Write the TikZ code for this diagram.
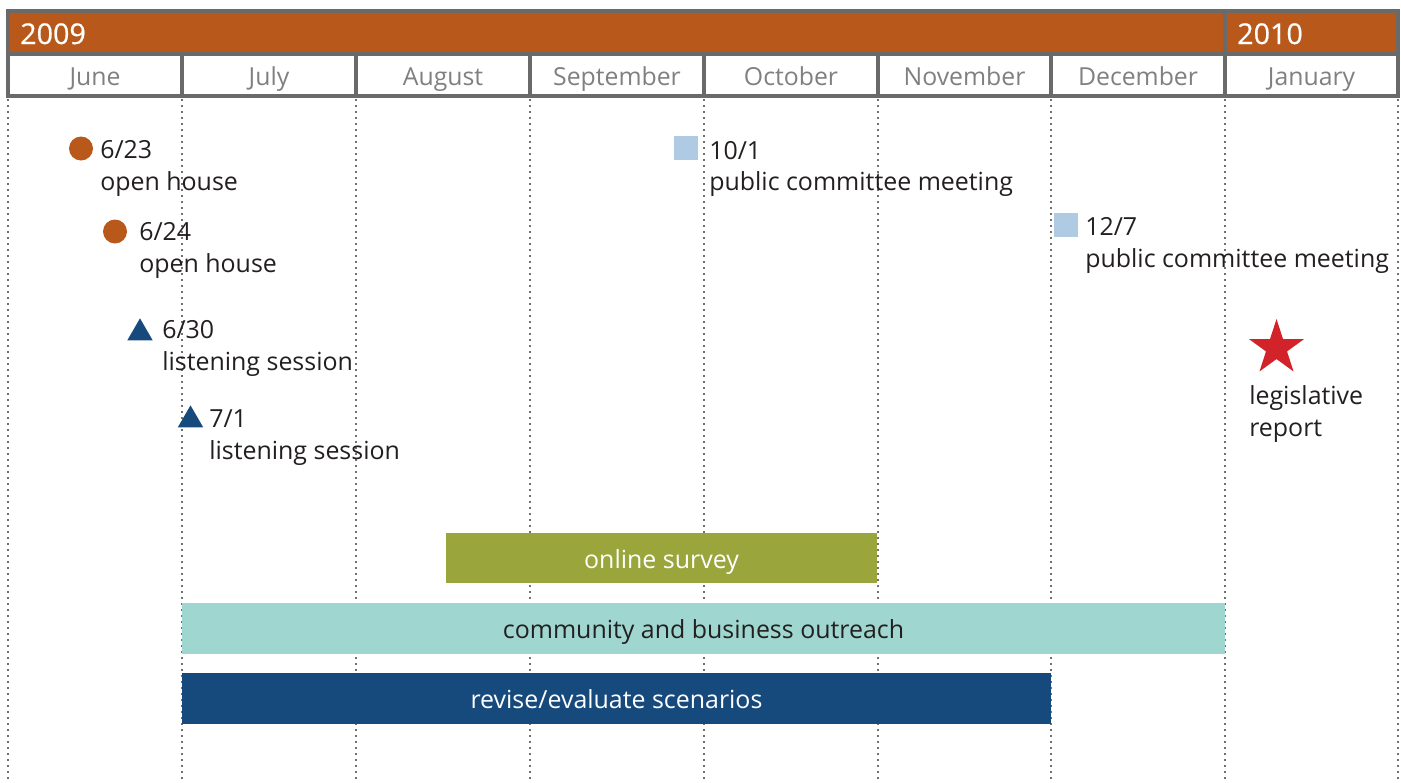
\documentclass[tikz,border=0pt]{standalone}
\usepackage{fontspec}
\setmainfont{Open Sans}
\newfontfamily\yearfont[FakeBold=0.6]{Open Sans}
\usetikzlibrary{shapes.geometric}
\definecolor{hdrorange}{HTML}{B8581A}
\definecolor{hdrgrey}{HTML}{6A6A6A}
\definecolor{monthgrey}{HTML}{808080}
\definecolor{dotgrey}{HTML}{707070}
\definecolor{txtdark}{HTML}{231F20}
\definecolor{olive}{HTML}{9AA63C}
\definecolor{teal}{HTML}{9FD7D0}
\definecolor{navy}{HTML}{174A7C}
\definecolor{lightblue}{HTML}{AECBE3}
\definecolor{starred}{HTML}{D2232A}
\begin{document}
\begin{tikzpicture}[x=0.75pt,y=-0.75pt,
  lbl/.style={anchor=base west, inner sep=0pt, text=txtdark, font=\fontsize{18.7}{22}\selectfont},
  month/.style={anchor=base, inner sep=0pt, text=monthgrey, font=\fontsize{18.6}{22}\selectfont},
  year/.style={anchor=base west, inner sep=0pt, text=white, font=\yearfont\fontsize{21.5}{24}\selectfont},
  barlbl/.style={anchor=base, inner sep=0pt, font=\fontsize{18.7}{22}\selectfont},
  dot/.style={circle, fill=hdrorange, inner sep=0pt, minimum size=18pt},
  tri/.style={regular polygon, regular polygon sides=3, fill=navy, inner sep=0pt, minimum size=22pt},
  sq/.style={rectangle, fill=lightblue, inner sep=0pt, minimum size=18pt},
  bigstar/.style={star, star points=5, star point ratio=2.618, fill=starred, inner sep=0pt, minimum size=43.5pt},
  gridline/.style={dotgrey, line width=1.2pt, dash pattern=on 1.2pt off 3.3pt},
  frame/.style={hdrgrey, line width=2.3pt}]
\useasboundingbox (0,0) rectangle (1401,782);
% dotted month lines
\foreach \x in {8,182,356,530,704,878,1051,1225,1398}
  \draw[gridline] (\x,99) -- (\x,782);
% header
\fill[hdrorange] (8,11) rectangle (1398,54);
\fill[white] (8,54) rectangle (1398,96);
\draw[frame] (8,11) rectangle (1398,96);
\draw[frame] (8,54) -- (1398,54);
\draw[frame] (1225,11) -- (1225,54);
\foreach \x in {182,356,530,704,878,1051,1225}
  \draw[frame] (\x,54) -- (\x,96);
\node[year] (y2009) at (20,44) {2009};
\node[year] (y2010) at (1237,44) {2010};
\node[month] (mjun) at (95,85) {June};
\node[month] (mjul) at (269,85) {July};
\node[month] (maug) at (443,85) {August};
\node[month] (msep) at (617,85) {September};
\node[month] (moct) at (791,85) {October};
\node[month] (mnov) at (964.5,85) {November};
\node[month] (mdec) at (1138,85) {December};
\node[month] (mjan) at (1311.5,85) {January};
% events
\node[dot] (d1) at (81,148.5) {};
\node[lbl] (d1a) at (100,158) {6/23};
\node[lbl] (d1b) at (100,190) {open house};
\node[dot] (d2) at (115,231.5) {};
\node[lbl] (d2a) at (139,240) {6/24};
\node[lbl] (d2b) at (139,272) {open house};
\node[tri] (t1) at (140,333) {};
\node[lbl] (t1a) at (162,338) {6/30};
\node[lbl] (t1b) at (162,370) {listening session};
\node[tri] (t2) at (190.5,420) {};
\node[lbl] (t2a) at (209,427) {7/1};
\node[lbl] (t2b) at (209,459) {listening session};
\node[sq] (s1) at (686,147.5) {};
\node[lbl] (s1a) at (709,159) {10/1};
\node[lbl] (s1b) at (709,190) {public committee meeting};
\node[sq] (s2) at (1066,225) {};
\node[lbl] (s2a) at (1085,235) {12/7};
\node[lbl] (s2b) at (1085,267) {public committee meeting};
\node[bigstar] (st) at (1276.5,348) {};
\node[lbl] (sta) at (1249,404) {legislative};
\node[lbl] (stb) at (1249,436) {report};
% bars
\fill[olive] (446,533) rectangle (877,583);
\node[barlbl, text=white] (b1) at (661.5,568) {online survey};
\fill[teal] (182,603) rectangle (1225,653.5);
\node[barlbl, text=txtdark] (b2) at (703.5,638) {community and business outreach};
\fill[navy] (182,673) rectangle (1051,723.5);
\node[barlbl, text=white] (b3) at (616.5,708) {revise/evaluate scenarios};
\end{tikzpicture}
\end{document}
